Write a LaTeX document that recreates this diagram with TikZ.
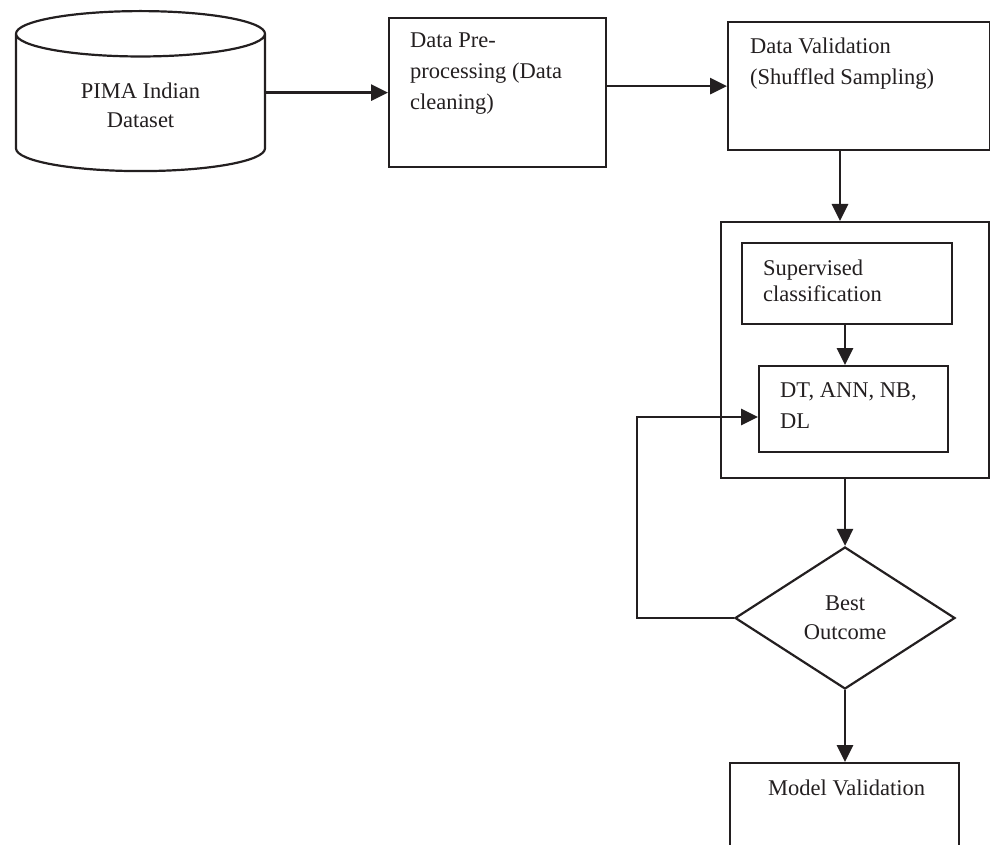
\documentclass[tikz,border=0pt]{standalone}
\usepackage{fontspec}
\setmainfont{Liberation Serif}
\usetikzlibrary{shapes.geometric}
\usetikzlibrary{arrows.meta}
\definecolor{ink}{RGB}{35,31,32}

\begin{document}
\begin{tikzpicture}[x=1pt, y=-1pt, every node/.style={text=ink},
    box/.style={draw=ink, line width=2.2pt, anchor=north west, inner sep=0pt},
    boxtext/.style={anchor=north west, align=left, inner sep=0pt, font=\fontsize{22.5}{31}\selectfont},
    flow/.style={draw=ink, line width=2.8pt, -{Triangle[length=17pt,width=16pt]}}]
    \useasboundingbox (0,0) rectangle (990,845);
    \clip (0,0) rectangle (990,845);
    % data source
    \node (pima) [cylinder, shape border rotate=90, aspect=0.36, draw=ink, line width=2.2pt,
        minimum width=249pt, minimum height=160pt, align=center, anchor=north,
        font=\fontsize{22.5}{29}\selectfont] at (140.5,10) {PIMA Indian\\Dataset};
    % preprocessing and validation
    \node (prep) [box, minimum width=217pt, minimum height=149pt,
        label={[boxtext, xshift=22pt, yshift=-16pt]north west:{Data Pre-\\processing (Data\\cleaning)}}] at (388,17) {};
    \node (val) [box, minimum width=262pt, minimum height=128pt,
        label={[boxtext, xshift=23pt, yshift=-16.6pt]north west:{Data Validation\\(Shuffled Sampling)}}] at (727,21) {};
    % classification block
    \node (cls) [box, minimum width=268pt, minimum height=256pt] at (720,221) {};
    \node (sup) [box, minimum width=210pt, minimum height=81pt,
        label={[boxtext, font=\fontsize{22.5}{26}\selectfont, xshift=22pt, yshift=-17.6pt]north west:{Supervised\\classification}}] at (741,242) {};
    \node (dt) [box, minimum width=189pt, minimum height=86pt,
        label={[boxtext, xshift=22pt, yshift=-17pt]north west:{DT, ANN, NB,\\DL}}] at (758,365) {};
    % decision and result
    \node (best) [diamond, draw=ink, line width=2.2pt, aspect=1.55, inner sep=0pt,
        minimum width=220pt, minimum height=142pt, align=center,
        font=\fontsize{22.5}{29}\selectfont] at (845,618) {Best\\Outcome};
    \node (mv) [box, minimum width=229pt, minimum height=120pt,
        label={[boxtext, xshift=39pt, yshift=-17.6pt]north west:{Model Validation}}] at (729,762) {};
    \coordinate (back) at (637,417);
    \coordinate (drop) at (840,0);

    \draw [flow] (pima.east |- prep.west) -- (prep.west);
    \draw [flow] (prep.east |- val.west) -- (val.west);
    \draw [flow] (val.south -| drop) -- (cls.north -| drop);
    \draw [flow] (sup.south -| best.north) -- (dt.north -| best.north);
    \draw [flow] (cls.south -| best.north) -- (best.north);
    \draw [flow] (best.south) -- (mv.north -| best.south);
    \draw [flow] (best.west) -| (back) -- (back -| dt.west);
\end{tikzpicture}
\end{document}
